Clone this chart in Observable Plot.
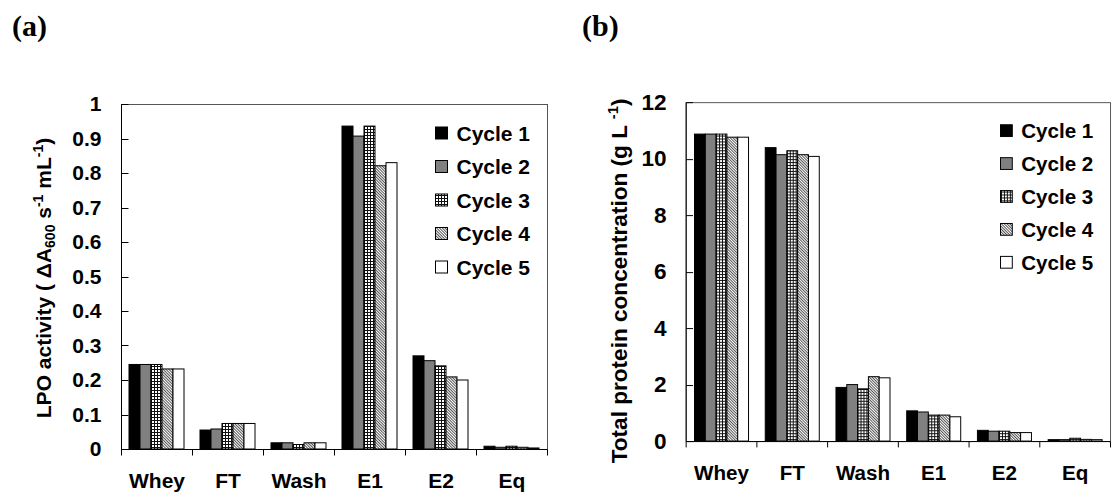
<!DOCTYPE html>
<html>
<head>
<meta charset="utf-8">
<script src="https://cdn.jsdelivr.net/npm/d3@7"></script>
<script src="https://cdn.jsdelivr.net/npm/@observablehq/plot@0.6"></script>
<style>
  body { margin: 0; background: #fff; width: 1112px; height: 495px; overflow: hidden; position: relative; font-family: "Liberation Sans", Arial, sans-serif; }
  .panel { position: absolute; top: 0; }
  .tag { position: absolute; top: 11px; font: bold 30px "Liberation Serif", "Times New Roman", serif; line-height: 1; }
</style>
</head>
<body>
<!-- hatch fills shared by both panels -->
<svg width="0" height="0" style="position:absolute">
  <defs>
    <pattern id="fill-grid" width="3" height="3" patternUnits="userSpaceOnUse">
      <rect width="3" height="3" fill="#fff"/>
      <path d="M0,0.5H3M0.5,0V3" stroke="#111" stroke-width="1"/>
    </pattern>
    <pattern id="fill-diag" width="2" height="2" patternUnits="userSpaceOnUse" patternTransform="rotate(45)">
      <rect width="2" height="2" fill="#fff"/>
      <path d="M0,0.5H2" stroke="#555" stroke-width="1"/>
    </pattern>
  </defs>
</svg>
<div class="tag" style="left:12px">(a)</div>
<div class="tag" style="left:582px">(b)</div>
<div id="panel-a" class="panel" style="left:0px"></div>
<div id="panel-b" class="panel" style="left:556px"></div>
<script>
// Process stages and purification cycles
const stages = ["Whey", "FT", "Wash", "E1", "E2", "Eq"];
const cycles = ["Cycle 1", "Cycle 2", "Cycle 3", "Cycle 4", "Cycle 5"];
const cycleFills = ["#000000", "#808080", "url(#fill-grid)", "url(#fill-diag)", "#ffffff"];

// LPO activity (ΔA600 s⁻¹ mL⁻¹), one value per stage
const lpoCycle1 = [0.245, 0.055, 0.018, 0.936, 0.270, 0.008];
const lpoCycle2 = [0.245, 0.058, 0.018, 0.907, 0.256, 0.005];
const lpoCycle3 = [0.245, 0.074, 0.013, 0.936, 0.241, 0.008];
const lpoCycle4 = [0.232, 0.074, 0.018, 0.821, 0.209, 0.005];
const lpoCycle5 = [0.232, 0.074, 0.018, 0.830, 0.200, 0.003];
const lpoTicks = [0, 0.1, 0.2, 0.3, 0.4, 0.5, 0.6, 0.7, 0.8, 0.9, 1];

// Total protein concentration (g L⁻¹), one value per stage
const protCycle1 = [10.87, 10.39, 1.90, 1.07, 0.38, 0.05];
const protCycle2 = [10.87, 10.14, 2.00, 1.03, 0.35, 0.05];
const protCycle3 = [10.87, 10.28, 1.85, 0.92, 0.35, 0.10];
const protCycle4 = [10.76, 10.14, 2.28, 0.92, 0.30, 0.06];
const protCycle5 = [10.76, 10.08, 2.24, 0.86, 0.30, 0.05];
const protTicks = [0, 2, 4, 6, 8, 10, 12];

const FONT = "Liberation Sans, Arial, sans-serif";

function drawPanel({series, ticks, yMax, width, marginLeft, marginRight, tickSize, title, titleX, titleY, titleSize}) {
  const rows = stages.flatMap((stage, i) =>
    cycles.map((cycle, j) => ({stage, cycle, value: series[j][i]})));

  const plot = Plot.plot({
    width, height: 495,
    marginTop: 104, marginBottom: 46, marginLeft, marginRight,
    style: {fontFamily: FONT, color: "#000", background: "transparent", overflow: "visible"},
    fx: {domain: stages, padding: 0, label: null},
    x: {domain: cycles, paddingInner: 0, paddingOuter: 0.7, axis: null},
    y: {domain: [0, yMax], label: null},
    color: {domain: cycles, range: cycleFills},
    marks: [
      Plot.barY(rows, {fx: "stage", x: "cycle", y: "value", fill: "cycle", stroke: "#000", strokeWidth: 1}),
      Plot.axisY(ticks, {tickSize: 0, tickPadding: 20, fontSize: tickSize, fontWeight: "bold", facetAnchor: "left", label: null,
        tickFormat: d => String(+d.toFixed(1))}),
      Plot.axisFx({anchor: "bottom", tickSize: 0, tickPadding: 24, fontSize: 21, fontWeight: "bold", label: null})
    ]
  });

  const svg = d3.select(plot);
  const fx = plot.scale("fx"), y = plot.scale("y");
  const px = v => Math.round(v) + 0.5;
  const left = px(fx.apply(stages[0]));
  const right = px(fx.apply(stages[stages.length - 1]) + fx.bandwidth);
  const top = px(y.apply(yMax)), bottom = px(y.apply(0));

  // plot frame, value axis line, baseline
  svg.append("rect").attr("x", left).attr("y", top).attr("width", right - left).attr("height", bottom - top)
    .attr("fill", "none").attr("stroke", "#555");
  svg.append("line").attr("x1", left).attr("x2", left).attr("y1", top).attr("y2", bottom).attr("stroke", "#000");
  svg.append("line").attr("x1", left).attr("x2", right).attr("y1", bottom).attr("y2", bottom).attr("stroke", "#000");

  // inward ticks on the value axis
  svg.append("g").selectAll("line").data(ticks).join("line")
    .attr("x1", left).attr("x2", left + 7)
    .attr("y1", d => px(y.apply(d))).attr("y2", d => px(y.apply(d))).attr("stroke", "#000");

  // category separators below the baseline
  const bounds = stages.map(s => px(fx.apply(s))).concat([right]);
  svg.append("g").selectAll("line").data(bounds).join("line")
    .attr("x1", d => d).attr("x2", d => d).attr("y1", bottom).attr("y2", bottom + 6).attr("stroke", "#000");

  // legend
  const lg = svg.append("g").attr("font-family", FONT).attr("font-weight", "bold").attr("font-size", 21)
    .attr("text-anchor", "start");
  cycles.forEach((c, i) => {
    const cy = 133 + i * 33.5;
    lg.append("rect").attr("x", right - 112).attr("y", cy - 6).attr("width", 12).attr("height", 12)
      .attr("fill", cycleFills[i]).attr("stroke", "#000");
    lg.append("text").attr("x", right - 91).attr("y", cy).attr("dy", "0.36em").text(c);
  });

  // rotated axis title with sub/superscripts
  const t = svg.append("text")
    .attr("transform", `translate(${titleX},${titleY}) rotate(-90)`)
    .attr("text-anchor", "middle").attr("font-family", FONT).attr("font-weight", "bold").attr("font-size", titleSize);
  title.forEach(part => {
    const ts = t.append("tspan").text(part.text);
    if (part.dy) ts.attr("dy", part.dy);
    if (part.size) ts.attr("font-size", part.size);
  });
  return plot;
}

document.getElementById("panel-a").append(drawPanel({
  series: [lpoCycle1, lpoCycle2, lpoCycle3, lpoCycle4, lpoCycle5],
  ticks: lpoTicks, yMax: 1, width: 556, marginLeft: 120, marginRight: 9, tickSize: 21,
  titleX: 51, titleY: 278, titleSize: 21,
  title: [
    {text: "LPO activity ( \u0394A"},
    {text: "600", size: 14, dy: 4},
    {text: " s", dy: -4},
    {text: "-1", size: 14, dy: -8},
    {text: " mL", dy: 8},
    {text: "-1", size: 14, dy: -8},
    {text: ")", dy: 8}
  ]
}));

document.getElementById("panel-b").append(drawPanel({
  series: [protCycle1, protCycle2, protCycle3, protCycle4, protCycle5],
  ticks: protTicks, yMax: 12, width: 566, marginLeft: 131, marginRight: 2, tickSize: 23,
  titleX: 72, titleY: 286, titleSize: 23,
  title: [
    {text: "Total protein concentration (g L "},
    {text: "-1", size: 15, dy: -9},
    {text: ")", dy: 9}
  ]
}));
</script>
</body>
</html>
